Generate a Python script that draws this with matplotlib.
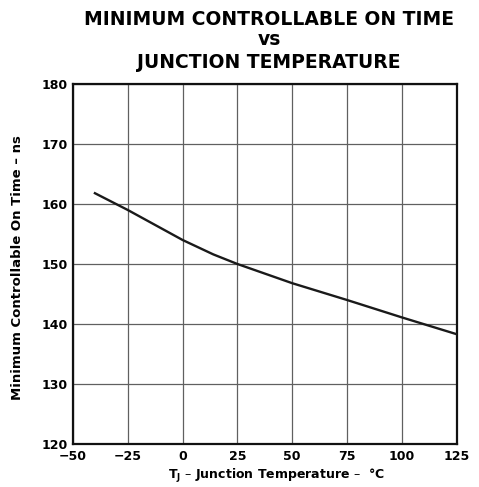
import matplotlib.pyplot as plt

plt.rcParams['font.family'] = ['DejaVu Sans']
plt.rcParams['font.weight'] = 'bold'

# curve
temp_c = [-40, -25, 0, 14, 25, 50, 75, 100, 125]
on_time_ns = [161.8, 159.0, 154.0, 151.6, 150.0, 146.8, 144.0, 141.1, 138.3]

x_ticks = [-50, -25, 0, 25, 50, 75, 100, 125]
y_ticks = [120, 130, 140, 150, 160, 170, 180]
x_tick_labels = ['\u221250', '\u221225', '0', '25', '50', '75', '100', '125']

title_lines = ['MINIMUM CONTROLLABLE ON TIME', 'vs', 'JUNCTION TEMPERATURE']


def main():
    fig = plt.figure(figsize=(4.79, 4.87), dpi=100)
    ax = fig.add_axes([0.1524, 0.0883, 0.801, 0.7392])

    ax.plot(temp_c, on_time_ns, color='#1a1a1a', linewidth=1.7, zorder=3)

    ax.set_xlim(-50, 125)
    ax.set_ylim(120, 180)
    ax.set_xticks(x_ticks)
    ax.set_xticklabels(x_tick_labels)
    ax.set_yticks(y_ticks)
    ax.grid(True, color='#606060', linewidth=0.9)
    ax.tick_params(length=0, labelsize=9)
    ax.tick_params(axis='x', pad=4.5)
    ax.tick_params(axis='y', pad=4)
    for lbl in ax.get_xticklabels() + ax.get_yticklabels():
        lbl.set_fontweight('bold')
    for sp in ax.spines.values():
        sp.set_linewidth(1.6)
        sp.set_color('#111111')

    # axis labels placed by hand to sit where the reference has them
    fig.text(276 / 479, 1 - 479 / 487,
             'T$_\\mathregular{J}$ \u2013 Junction Temperature \u2013  \u00b0C',
             ha='center', va='baseline', fontsize=9, fontweight='bold')
    fig.text(18 / 479, 1 - 268 / 487, 'Minimum Controllable On Time \u2013 ns',
             ha='center', va='center', rotation=90, fontsize=9.5,
             fontweight='bold')

    # three title lines, baselines
    for line, base_px in zip(title_lines, [25, 45, 68]):
        fig.text(269 / 479, 1 - base_px / 487, line, ha='center',
                 va='baseline', fontsize=13.5, fontweight='bold')

    fig.savefig('out.png', dpi=100)


if __name__ == "__main__":
    main()
